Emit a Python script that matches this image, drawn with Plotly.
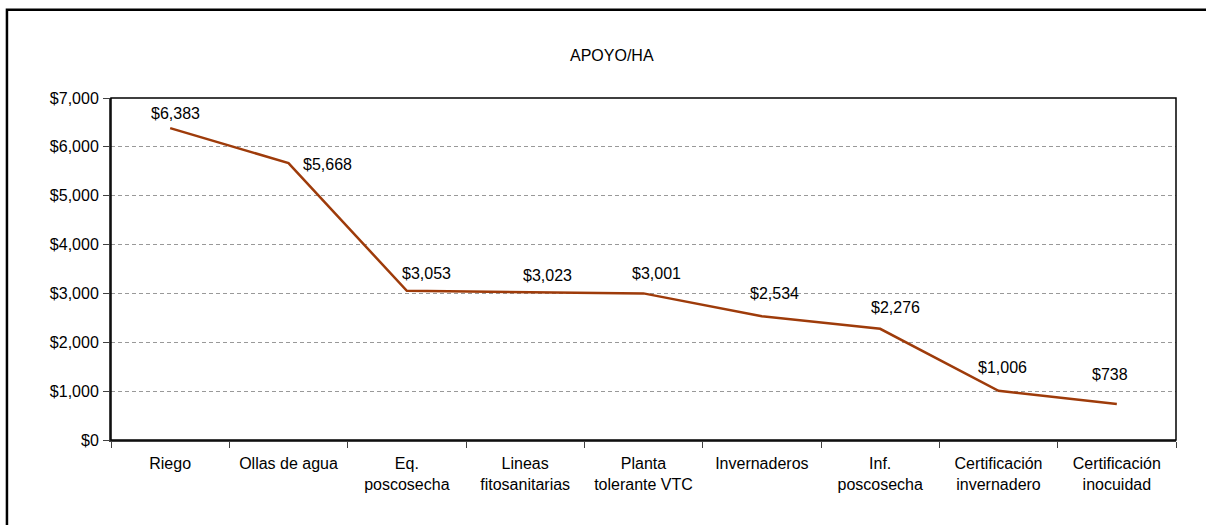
import plotly.graph_objects as go

categories = ["Riego", "Ollas de agua", "Eq.<br>poscosecha", "Lineas<br>fitosanitarias",
              "Planta<br>tolerante VTC", "Invernaderos", "Inf.<br>poscosecha",
              "Certificación<br>invernadero", "Certificación<br>inocuidad"]
apoyo_ha = [6383, 5668, 3053, 3023, 3001, 2534, 2276, 1006, 738]
value_labels = ["$6,383", "$5,668", "$3,053", "$3,023", "$3,001", "$2,534", "$2,276", "$1,006", "$738"]

# desplazamiento de etiquetas (px) tal como en la hoja original
label_dx = [5, 39, 20, 22, 13, 13, 15, 4, -7]
label_dy = [15, -1, 17, 17, 20, 23, 21, 23, 29]

FONT = "Arial, Liberation Sans, sans-serif"

fig = go.Figure()
fig.add_trace(go.Scatter(
    x=categories, y=apoyo_ha, mode='lines',
    line=dict(color='#9E3B0A', width=2.5),
    hoverinfo='x+y', showlegend=False,
))

for cat, val, txt, dx, dy in zip(categories, apoyo_ha, value_labels, label_dx, label_dy):
    fig.add_annotation(x=cat, y=val, text=txt, showarrow=False,
                       xshift=dx, yshift=dy, font=dict(size=16, color='black', family=FONT))

fig.add_annotation(text="APOYO/HA", xref='paper', yref='paper', x=0.47, y=1.155,
                   showarrow=False, font=dict(size=16, color='black', family=FONT))

# marco del área de trazado y del gráfico
fig.add_shape(type='rect', xref='paper', yref='paper', x0=0, x1=1, y0=0, y1=1,
              line=dict(color='black', width=1.5), layer='above')
fig.add_shape(type='rect', xref='paper', yref='paper', x0=-0.0977, x1=1.3, y0=-0.6, y1=1.258,
              line=dict(color='black', width=2.5))

fig.update_layout(
    width=1206, height=525,
    paper_bgcolor='white', plot_bgcolor='white',
    margin=dict(l=111, r=30, t=98, b=85),
    font=dict(family=FONT, size=16, color='black'),
    xaxis=dict(range=[-0.5, 8.5], showgrid=False, zeroline=False, showline=True,
               linecolor='#404040', linewidth=2,
               ticks='outside', tickson='boundaries', ticklen=6, tickcolor='#404040', tickwidth=1,
               ticklabelstandoff=8, tickfont=dict(size=16, family=FONT)),
    yaxis=dict(range=[0, 7000], dtick=1000, tickprefix='$', tickformat=',d',
               showgrid=True, gridcolor='#999999', griddash='4px,3px', gridwidth=1,
               zeroline=False, showline=True, linecolor='#404040', linewidth=2,
               ticks='outside', ticklen=6, tickcolor='#404040',
               ticklabelstandoff=1, tickfont=dict(size=16, family=FONT)),
)

fig.write_html("out.html", config={'displayModeBar': False},
               post_script="document.body.style.margin='0';")
